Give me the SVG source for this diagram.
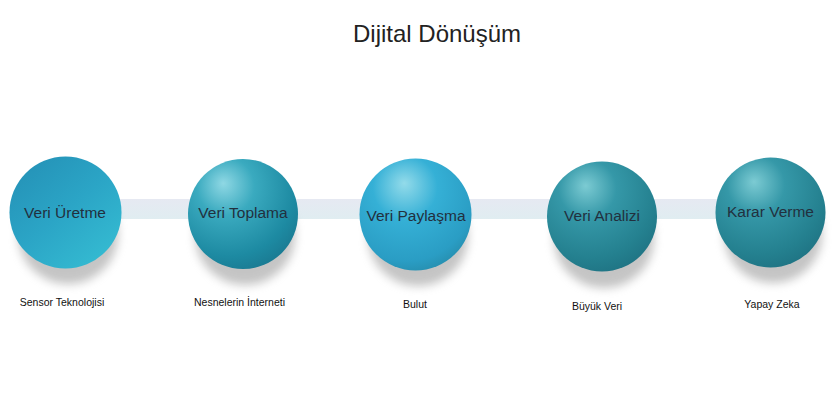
<svg xmlns="http://www.w3.org/2000/svg" width="840" height="418" viewBox="0 0 840 418">
  <defs>
    <linearGradient id="g1" x1="0.1" y1="0.1" x2="0.8" y2="0.95">
      <stop offset="0" stop-color="#2593b8"/>
      <stop offset="0.5" stop-color="#2ba5c6"/>
      <stop offset="1" stop-color="#34bad1"/>
    </linearGradient>
    <radialGradient id="g2" cx="0.38" cy="0.3" r="0.75" fx="0.32" fy="0.22">
      <stop offset="0" stop-color="#8fd8e4"/>
      <stop offset="0.35" stop-color="#3aaabf"/>
      <stop offset="0.8" stop-color="#1d8aa2"/>
      <stop offset="1" stop-color="#1a7a92"/>
    </radialGradient>
    <radialGradient id="g3" cx="0.42" cy="0.32" r="0.72" fx="0.4" fy="0.22">
      <stop offset="0" stop-color="#93dbea"/>
      <stop offset="0.4" stop-color="#35b0d6"/>
      <stop offset="0.85" stop-color="#2a9dc4"/>
      <stop offset="1" stop-color="#268eae"/>
    </radialGradient>
    <radialGradient id="g4" cx="0.4" cy="0.3" r="0.75" fx="0.35" fy="0.22">
      <stop offset="0" stop-color="#7ccbd3"/>
      <stop offset="0.35" stop-color="#3598a8"/>
      <stop offset="0.8" stop-color="#24808f"/>
      <stop offset="1" stop-color="#1f7383"/>
    </radialGradient>
    <filter id="blur" x="-50%" y="-50%" width="200%" height="200%">
      <feGaussianBlur stdDeviation="5"/>
    </filter>
    <linearGradient id="band" x1="0" y1="0" x2="0" y2="1">
      <stop offset="0" stop-color="#e6e9f2"/>
      <stop offset="1" stop-color="#e0edf1"/>
    </linearGradient>
  </defs>
  <style>
    .title{font-family:"Liberation Sans",Arial,sans-serif;font-size:24px;fill:#222;text-anchor:middle}
    .lbl{font-family:"Liberation Sans",Arial,sans-serif;font-size:15.5px;fill:#22303e;text-anchor:middle}
    .sub{font-family:"Liberation Sans",Arial,sans-serif;font-size:10.5px;fill:#111;text-anchor:middle}
    .shadow{fill:#8a8a8a;opacity:0.5;filter:url(#blur)}
  </style>
  <rect width="840" height="418" fill="#ffffff"/>
  <text class="title" x="437" y="42">Dijital Dönüşüm</text>

  <g id="connectors">
    <rect x="110" y="199" width="620" height="20" fill="url(#band)"/>
  </g>

  <g id="node1">
    <ellipse class="shadow" cx="68" cy="234" rx="50" ry="50"/>
    <circle cx="65.5" cy="212.5" r="56" fill="url(#g1)"/>
    <text class="lbl" x="65" y="218">Veri Üretme</text>
    <text class="sub" x="62" y="306">Sensor Teknolojisi</text>
  </g>
  <g id="node2">
    <ellipse class="shadow" cx="245" cy="235" rx="50" ry="50"/>
    <circle cx="243" cy="214" r="55" fill="url(#g2)"/>
    <text class="lbl" x="243" y="218">Veri Toplama</text>
    <text class="sub" x="239.5" y="306">Nesnelerin İnterneti</text>
  </g>
  <g id="node3">
    <ellipse class="shadow" cx="418" cy="236" rx="50" ry="50"/>
    <circle cx="415.5" cy="214.5" r="56" fill="url(#g3)"/>
    <text class="lbl" x="416" y="221">Veri Paylaşma</text>
    <text class="sub" x="415" y="308">Bulut</text>
  </g>
  <g id="node4">
    <ellipse class="shadow" cx="604" cy="238" rx="50" ry="50"/>
    <circle cx="602" cy="216.5" r="55" fill="url(#g4)"/>
    <text class="lbl" x="602" y="221">Veri Analizi</text>
    <text class="sub" x="597" y="310">Büyük Veri</text>
  </g>
  <g id="node5">
    <ellipse class="shadow" cx="773" cy="234" rx="49" ry="49"/>
    <circle cx="770.5" cy="212.5" r="55" fill="url(#g4)"/>
    <text class="lbl" x="770.5" y="217">Karar Verme</text>
    <text class="sub" x="772" y="308">Yapay Zeka</text>
  </g>
</svg>
